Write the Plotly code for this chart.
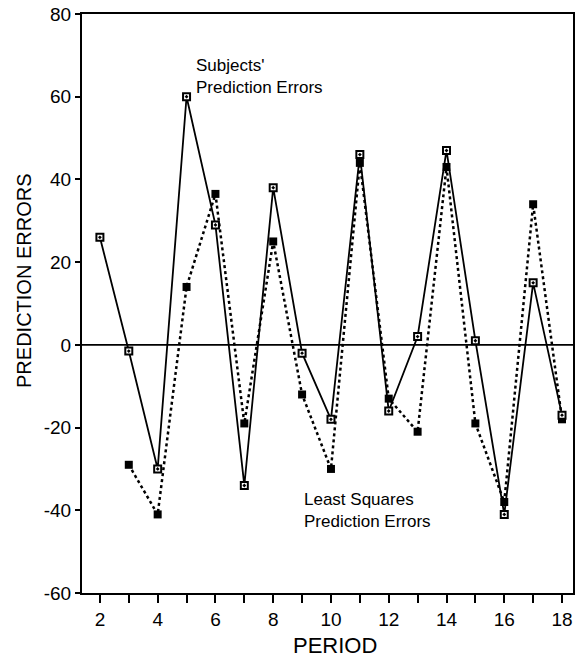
import plotly.graph_objects as go

# period numbers
subj_period = list(range(2, 19))
ls_period = list(range(3, 19))

# subjects' prediction errors (solid, open squares)
subj_err = [26, -1.5, -30, 60, 29, -34, 38, -2, -18, 46, -16, 2, 47, 1, -41, 15, -17]
# least squares prediction errors (dotted, filled squares)
ls_err = [-29, -41, 14, 36.5, -19, 25, -12, -30, 44, -13, -21, 43, -19, -38, 34, -18]

y_ticks = list(range(-60, 81, 20))

fig = go.Figure()

fig.add_trace(go.Scatter(
    x=ls_period, y=ls_err,
    mode='lines+markers',
    line=dict(color='black', width=2.5, dash='3px,3px'),
    marker=dict(symbol='square', size=8, color='black'),
    showlegend=False
))
fig.add_trace(go.Scatter(
    x=subj_period, y=subj_err,
    mode='lines+markers',
    line=dict(color='black', width=1.8),
    marker=dict(symbol='square-dot', size=7, color='white',
                line=dict(color='black', width=2)),
    showlegend=False
))

fig.add_hline(y=0, line=dict(color='black', width=1.8))

fig.add_annotation(x=5.27, y=65, text="Subjects'<br>Prediction Errors",
                   showarrow=False, xanchor='left', align='left',
                   font=dict(size=17, color='black'))
fig.add_annotation(x=9.0, y=-40, text="Least Squares<br>Prediction Errors",
                   showarrow=False, xanchor='left', align='left',
                   font=dict(size=17, color='black'))

# axis titles as annotations so they sit where the original has them
fig.add_annotation(xref='paper', yref='paper', x=-0.118, y=0.539,
                   text='PREDICTION ERRORS', textangle=-90, showarrow=False,
                   xanchor='center', yanchor='middle', font=dict(size=20))
fig.add_annotation(xref='paper', yref='paper', x=0.515, y=-0.0915,
                   text='PERIOD', showarrow=False,
                   xanchor='center', yanchor='middle', font=dict(size=22))

fig.update_layout(
    width=583, height=659,
    margin=dict(l=82, r=10, t=14, b=66),
    paper_bgcolor='white',
    plot_bgcolor='white',
    font=dict(family='Liberation Sans, Arial, sans-serif', size=19, color='black'),
    xaxis=dict(
        range=[1.38, 18.38], automargin=False,
        tickvals=list(range(2, 19, 2)),
        ticks='outside', ticklen=8, tickwidth=1.5, tickcolor='black',
        minor=dict(tickvals=list(range(3, 19, 2)), ticks='outside',
                   ticklen=8, tickwidth=1.5, tickcolor='black'),
        showline=True, linecolor='black', linewidth=2, mirror=True,
        showgrid=False, zeroline=False,
    ),
    yaxis=dict(
        range=[-60, 80], automargin=False,
        tickvals=y_ticks, ticktext=[str(v) for v in y_ticks],
        ticks='outside', ticklen=5, tickwidth=1.5, tickcolor='black',
        showline=True, linecolor='black', linewidth=2, mirror=True,
        showgrid=False, zeroline=False,
    ),
)

# drop the default 8px body margin so the figure fills the window exactly
fig.write_html("out.html", config={'displayModeBar': False},
               post_script="document.body.style.margin='0';")
